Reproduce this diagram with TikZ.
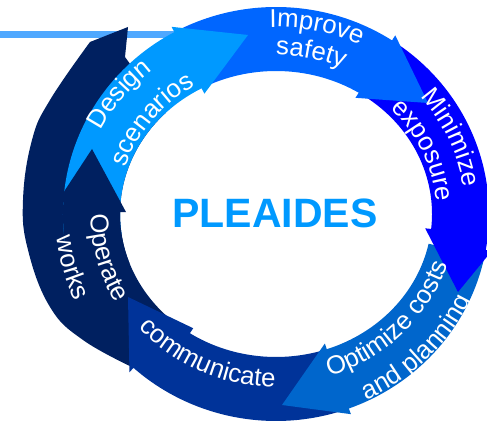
\documentclass[tikz,border=0pt]{standalone}
\usepackage{fontspec}
\setmainfont{Liberation Sans}
\usetikzlibrary{decorations.text}

\definecolor{designblue}{HTML}{0099FF}
\definecolor{improveblue}{HTML}{0066FF}
\definecolor{minimizeblue}{HTML}{0000FF}
\definecolor{optimizeblue}{HTML}{0066CC}
\definecolor{commblue}{HTML}{003399}
\definecolor{operatenavy}{HTML}{002060}
\definecolor{toplineblue}{HTML}{4FA8FF}

\newcommand{\lblfont}{\fontsize{22}{26}\selectfont}

% colour, tail angle, outer barb angle, inner barb angle, tip
\newcommand{\cycarrow}[5]{%
  \fill[#1] (#2:213 and 207) arc[start angle=#2, end angle=#3, x radius=213, y radius=207]
    -- (#3:219 and 213) -- (#5) -- (#4:150 and 137) -- (#4:156 and 143)
    arc[start angle=#4, end angle=#2, x radius=156, y radius=143] -- cycle;}

% start angle, end angle, x radius, y radius, text
\newcommand{\arclabel}[5]{%
  \path[decorate, decoration={text along path, text align=center, text color=white,
    text={|\lblfont|#5}}] (#1:#3 and #4) arc[start angle=#1, end angle=#2, x radius=#3, y radius=#4];}

\begin{document}
\begin{tikzpicture}[x=0.03cm, y=0.03cm]
\useasboundingbox (0,0) rectangle (487,430);
\coordinate (ctr) at (276,216);
\coordinate (lineW) at (0,395.5);
\coordinate (lineE) at (250,395.5);

\draw[toplineblue, line width=6pt] (lineW) -- (lineE);

\begin{scope}[shift={(ctr)}]
\fill[operatenavy] (-148,187) -- (-151,157) -- (135:156 and 143)
  arc[start angle=135, end angle=234, x radius=156, y radius=143]
  -- plot[smooth, tension=0.7] coordinates {(-142,-154) (-193,-126) (-226,-93) (-248,-36)
     (-253,14) (-244,74) (-226,114) (-186,172)} -- cycle;

\cycarrow{commblue}{-72.5}{-132}{-123.5}{-148,-83}
\cycarrow{optimizeblue}{-12}{-70}{-71}{6,-191}
\cycarrow{minimizeblue}{55.5}{-10}{-6}{182,-78}
\cycarrow{improveblue}{116.5}{57}{58}{152,111}
\cycarrow{designblue}{188}{118.5}{118.5}{-28,179}
\cycarrow{operatenavy}{200}{176.7}{179.2}{-184,65}

\arclabel{187}{97}{195.5}{186}{Design}
\arclabel{187}{97}{158.5}{149}{scenarios}
\arclabel{123}{33}{196.5}{187}{Improve}
\arclabel{123}{33}{168.5}{159}{safety}
\arclabel{69}{-21}{189.5}{180}{Minimize}
\arclabel{69}{-21}{160.5}{151}{exposure}
\arclabel{-89.5}{0.5}{179.5}{170}{Optimize costs}
\arclabel{-89.5}{0.5}{214.5}{205}{and planning}
\arclabel{200}{290}{182.5}{173}{communicate}
\arclabel{150}{240}{185.5}{176}{Operate}
\arclabel{150}{240}{220.5}{211}{works}

\node[text=designblue, font=\bfseries\fontsize{35}{40}\selectfont, inner sep=0pt] (title) at (-1,1) {PLEAIDES};
\end{scope}
\end{tikzpicture}
\end{document}
